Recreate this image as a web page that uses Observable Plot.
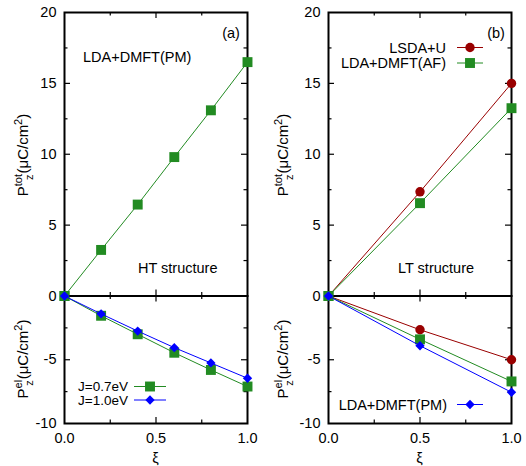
<!DOCTYPE html>
<html>
<head>
<meta charset="utf-8">
<script src="https://cdn.jsdelivr.net/npm/d3@7"></script>
<script src="https://cdn.jsdelivr.net/npm/@observablehq/plot@0.6"></script>
<style>
  html, body { margin: 0; padding: 0; background: white; overflow: hidden; }
  #chart { position: relative; width: 526px; height: 466px; }
  #chart svg { position: absolute; left: 0; top: 0; }
</style>
</head>
<body>
<div id="chart"></div>
<script>
// ---------- data ----------
const xiHT = [0, 0.2, 0.4, 0.6, 0.8, 1.0];
const totHT_PM = [0, 3.25, 6.45, 9.8, 13.1, 16.5];
const elHT_J07 = [0, -1.55, -3.0, -4.45, -5.8, -7.1];
const elHT_J10 = [0, -1.4, -2.75, -4.05, -5.25, -6.45];

const xiLT = [0, 0.5, 1.0];
const totLT_U = [0, 7.35, 15.0];
const totLT_AF = [0, 6.55, 13.25];
const elLT_U = [0, -2.65, -5.0];
const elLT_AF = [0, -3.4, -6.7];
const elLT_PM = [0, -3.9, -7.55];

const xTickLabels = [0, 0.5, 1.0];
const xMinor = [0.25, 0.75];
const xMajor = [0.5];
const yTopLabels = [0, 5, 10, 15, 20];
const yTopMajor = [5, 10, 15];
const yTopMinor = [2.5, 7.5, 12.5, 17.5];
const yBotLabels = [-5, -10];
const yBotMajor = [-5];
const yBotMinor = [-2.5, -7.5];

// ---------- styling ----------
const W = 526, H = 466;
const FONT = "'Liberation Sans', Arial, Helvetica, sans-serif";
const GREEN = "#228b22", BLUE = "#0000ff", RED = "#990000";
const SQ_R = 5.6, CI_R = 4.7, DI_R = 4.2;

const boxes = {
  L: [64, 247], R: [328, 511],
  T: [12, 295.5], B: [295.5, 423]
};

function series(xs, ys, color, symbol, r) {
  return [
    Plot.line(ys, {x: (d, i) => xs[i], y: d => d, stroke: color, strokeWidth: 1}),
    Plot.dot(ys, {x: (d, i) => xs[i], y: d => d, symbol, r, fill: color, stroke: "none"})
  ];
}

function panel(col, row, ydomain, yLabels, yMajor, yMinor, showX, marks) {
  const [x0, x1] = boxes[col];
  const [y0, y1] = boxes[row];
  const fw = x1 - x0, fh = y1 - y0;
  const MAJ = 6, MIN = 3.5;
  const tk = {stroke: "black", strokeWidth: 1.2};
  return Plot.plot({
    width: W, height: H,
    marginLeft: x0, marginRight: W - x1, marginTop: y0, marginBottom: H - y1,
    x: {domain: [0, 1], axis: null},
    y: {domain: ydomain, axis: null},
    style: {background: "transparent", fontFamily: FONT, fontSize: "14.5px", color: "black", overflow: "visible"},
    marks: [
      // inward ticks, bottom & top
      Plot.tickX(xMajor, {x: d => d, insetTop: fh - MAJ, ...tk}),
      Plot.tickX(xMinor, {x: d => d, insetTop: fh - MIN, ...tk}),
      Plot.tickX(xMajor, {x: d => d, insetBottom: fh - MAJ, ...tk}),
      Plot.tickX(xMinor, {x: d => d, insetBottom: fh - MIN, ...tk}),
      // inward ticks, left & right
      Plot.tickY(yMajor, {y: d => d, insetRight: fw - MAJ, ...tk}),
      Plot.tickY(yMinor, {y: d => d, insetRight: fw - MIN, ...tk}),
      Plot.tickY(yMajor, {y: d => d, insetLeft: fw - MAJ, ...tk}),
      Plot.tickY(yMinor, {y: d => d, insetLeft: fw - MIN, ...tk}),
      Plot.frame({stroke: "black", strokeWidth: 2}),
      Plot.axisY(yLabels, {anchor: "left", tickSize: 0, tickPadding: 8, tickFormat: d => String(d), label: null, fill: "black"}),
      showX ? Plot.axisX(xTickLabels, {anchor: "bottom", tickSize: 0, tickPadding: 9, tickFormat: d3.format(".1f"), label: null, fill: "black"}) : null,
      ...marks
    ]
  });
}

function yLabel(svg, x, y, sup) {
  const t = d3.select(svg).append("text")
    .attr("transform", `translate(${x},${y}) rotate(-90)`)
    .attr("text-anchor", "middle").attr("font-size", 15).attr("fill", "black");
  t.append("tspan").text("P");
  t.append("tspan").attr("font-size", 11).attr("dy", -6.5).text(sup);
  t.append("tspan").attr("font-size", 11).attr("dx", -6).attr("dy", 11).text("z");
  t.append("tspan").attr("dx", 1).attr("dy", -4.5).text("(μC/cm");
  t.append("tspan").attr("font-size", 11).attr("dy", -6.5).text("2");
  t.append("tspan").attr("dy", 6.5).text(")");
}

function note(svg, x, y, txt, anchor = "start", size = 14.5) {
  d3.select(svg).append("text").attr("x", x).attr("y", y)
    .attr("text-anchor", anchor).attr("font-size", size).attr("fill", "black").text(txt);
}

const symMap = {square: d3.symbolSquare, circle: d3.symbolCircle, diamond2: d3.symbolDiamond2};
function legendItem(svg, textRight, cy, txt, color, symbol, r, lx0, lx1, size = 14.5) {
  const g = d3.select(svg).append("g");
  g.append("text").attr("x", textRight).attr("y", cy + size * 0.35).attr("text-anchor", "end")
    .attr("font-size", size).attr("fill", "black").text(txt);
  g.append("line").attr("x1", lx0).attr("x2", lx1).attr("y1", cy).attr("y2", cy)
    .attr("stroke", color).attr("stroke-width", 1);
  g.append("path").attr("transform", `translate(${(lx0 + lx1) / 2},${cy})`)
    .attr("d", d3.symbol(symMap[symbol], r * r * Math.PI)()).attr("fill", color);
}

const chart = document.getElementById("chart");

// top-left (a)
const pa = panel("L", "T", [0, 20], yTopLabels, yTopMajor, yTopMinor, false,
  series(xiHT, totHT_PM, GREEN, "square", SQ_R));
chart.append(pa);
yLabel(pa, 28, 155, "tot");
note(pa, 231, 38, "(a)", "middle");
note(pa, 83, 62, "LDA+DMFT(PM)");
note(pa, 138, 273, "HT structure");

// top-right (b)
const pb = panel("R", "T", [0, 20], yTopLabels, yTopMajor, yTopMinor, false, [
  ...series(xiLT, totLT_U, RED, "circle", CI_R),
  ...series(xiLT, totLT_AF, GREEN, "square", SQ_R)
]);
chart.append(pb);
yLabel(pb, 288, 155, "tot");
note(pb, 496, 38, "(b)", "middle");
note(pb, 398, 273, "LT structure");
legendItem(pb, 446, 47.5, "LSDA+U", RED, "circle", CI_R, 457, 483);
legendItem(pb, 446, 63, "LDA+DMFT(AF)", GREEN, "square", SQ_R, 457, 483);

// bottom-left
const pc = panel("L", "B", [-10, 0], yBotLabels, yBotMajor, yBotMinor, true, [
  ...series(xiHT, elHT_J07, GREEN, "square", SQ_R),
  ...series(xiHT, elHT_J10, BLUE, "diamond2", DI_R)
]);
chart.append(pc);
yLabel(pc, 28, 359, "el");
note(pc, 155.5, 463, "ξ", "middle");
legendItem(pc, 128, 386.5, "J=0.7eV", GREEN, "square", SQ_R, 134, 166, 13.5);
legendItem(pc, 128, 400, "J=1.0eV", BLUE, "diamond2", DI_R, 134, 166, 13.5);

// bottom-right
const pd = panel("R", "B", [-10, 0], yBotLabels, yBotMajor, yBotMinor, true, [
  ...series(xiLT, elLT_U, RED, "circle", CI_R),
  ...series(xiLT, elLT_AF, GREEN, "square", SQ_R),
  ...series(xiLT, elLT_PM, BLUE, "diamond2", DI_R)
]);
chart.append(pd);
yLabel(pd, 288, 359, "el");
note(pd, 419.5, 463, "ξ", "middle");
legendItem(pd, 447, 404.5, "LDA+DMFT(PM)", BLUE, "diamond2", DI_R, 457, 483);
</script>
</body>
</html>
